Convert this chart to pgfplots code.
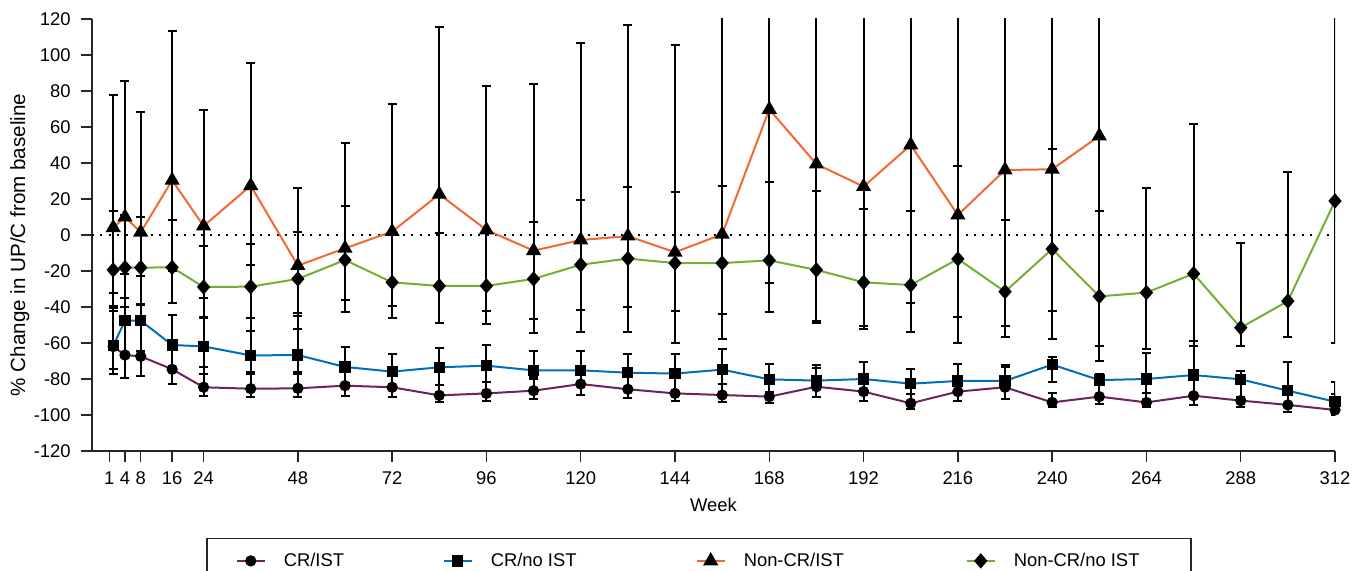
\documentclass[border=0pt]{standalone}
\usepackage{pgfplots}
\pgfplotsset{compat=1.18}
\usepackage{pgfplotstable}
\usepackage{fontspec}
\setmainfont{Liberation Sans}
\definecolor{cPur}{RGB}{108,34,96}
\definecolor{cBlu}{RGB}{0,110,185}
\definecolor{cOra}{RGB}{240,105,50}
\definecolor{cGrn}{RGB}{115,175,50}

\pgfplotstableread{
x y ep em
1 4.1 73.7 46.1
4 10 75.4 49.8
8 1.5 66.8 40
16 30.4 82.9 68
24 5 64.6 50.4
36 27.4 68.2 44.1
48 -17 42.9 26.5
60 -7.4 58.5 35.6
72 1.9 71.1 41.3
84 22.6 93 50.6
96 2.8 80.2 45
108 -8.7 92.8 38
120 -2.8 109.5 38.9
132 -0.6 117.1 53.5
144 -9.6 115.2 50.6
156 0.4 129.6 44.5
168 69.8 60.2 112.4
180 39.4 90.6 87
192 26.9 103.1 77.5
204 50 80 103.9
216 11.1 118.9 56.8
228 36.1 93.9 86.5
240 36.5 93.5 94.1
252 55 75 124.8
}\tabOra

\pgfplotstableread{
x y ep em
1 -19.4 32.7 13
4 -18.1 29.2 3.8
8 -18.1 27.9 4.5
16 -18 26.1 2
24 -28.9 22.6 17
36 -28.7 23.6 24.4
48 -24.4 26.1 28
60 -13.9 30 22.2
72 -26.3 27.8 20
84 -28.3 29.2 20.4
96 -28.3 29.8 21.1
108 -24.4 31.4 30.2
120 -16.5 36.1 37.4
132 -13.1 39.8 26.9
144 -15.6 39.3 26.8
156 -15.6 43 42.2
168 -14.1 43.5 12.4
180 -19.4 43.8 29.7
192 -26.3 40.7 26.1
204 -27.8 41.3 9.8
216 -13.3 51.6 46.9
228 -31.5 40 25
240 -7.8 55.6 34.6
252 -34.1 47.6 27.6
264 -32 58.1 31.3
276 -21.5 83.4 40
288 -51.5 47.1 10
300 -36.7 71.5 20.2
312 18.9 111.1 79.1
}\tabGrn

\pgfplotstableread{
x y ep em
1 -61.5 22.1 15.7
4 -47.6 12.8 20.4
8 -47.6 8.6 16.8
16 -61.1 16.7 12.9
24 -61.9 26.7 15.3
36 -66.9 20.6 10.3
48 -66.7 21.9 10.5
60 -73.3 10.9 8.7
72 -75.9 9.8 8.1
84 -73.5 10.5 9.8
96 -72.6 11.5 8.9
108 -75.2 10.6 4.8
120 -75.2 10.9 7.8
132 -76.5 10.4 9.5
144 -77 10.9 11
156 -74.8 11.5 8
168 -80.2 8.7 6.8
180 -80.9 8.7 3.1
192 -80 9.3 7
204 -82.6 8.2 5.7
216 -81.1 9.2 5.9
228 -81.1 8.9 3.9
240 -72 4 9.5
252 -80.6 3.6 8.4
264 -80 14.3 8
276 -77.8 18.9 11.2
288 -80.2 4.8 9.6
300 -86.5 16.1 7.5
312 -92.6 10.7 4.4
}\tabBlu

\pgfplotstableread{
x y ep em
1 -62 21.3 12.6
4 -66.7 17.7 12.6
8 -67.4 18.4 10.9
16 -74.6 13.6 8.2
24 -84.6 11.1 4.7
36 -85.4 9.5 4.4
48 -85.2 9.3 4.6
60 -83.7 10.7 5.6
72 -84.6 8.6 5.2
84 -89.1 16.1 3.5
96 -88 16 4
108 -86.5 7.8 4.8
120 -82.8 7.8 6.1
132 -85.7 9.7 5
144 -88 11 4
156 -88.9 13.9 4.1
168 -89.8 9.8 3.7
180 -84.3 10.6 5.9
192 -87 7 5
204 -93.5 11.5 3
216 -87 8.9 5.2
228 -84.6 11.5 6.5
240 -93 5 2.7
252 -89.8 8.8 4.1
264 -93 13 2.4
276 -89.3 11.3 5.1
288 -92 12 3.7
300 -94.4 8.4 3.7
312 -97.2 8.9 2.8
}\tabPur

\begin{document}
\begin{tikzpicture}
\begin{axis}[
  name=ax,
  scale only axis,
  width=621.5pt, height=216pt,
  xmin=-4.4, xmax=312,
  ymin=-120, ymax=120,
  axis lines=left,
  axis line style={-, black!85, line width=0.75pt},
  tick style={black!85, line width=0.75pt},
  tick align=outside,
  major tick length=5.5pt,
  font=\fontsize{9.2pt}{11pt}\selectfont,
  /pgf/number format/assume math mode=true,
  xtick={0,4,8,16,24,48,72,96,120,144,168,192,216,240,264,288,312},
  xticklabels={1,4,8,16,24,48,72,96,120,144,168,192,216,240,264,288,312},
  ytick={-120,-100,-80,-60,-40,-20,0,20,40,60,80,100,120},
  yticklabel style={anchor=east, inner xsep=0pt, xshift=-5pt},
  xticklabel style={anchor=base, yshift=-11.3pt, inner sep=0pt},
  xlabel={Week},
  xlabel style={at={(axis description cs:0.5,-0.125)}, anchor=center},
  ylabel={\% Change in UP/C from baseline},
  ylabel style={at={(axis description cs:-0.058,0.477)}, anchor=center,
    font=\fontsize{10.3pt}{12pt}\selectfont},
  clip=true,
  legend columns=4,
  legend cell align=left,
  legend style={at={(0,0)}, anchor=north west, xshift=57pt, yshift=-43.5pt,
    draw=black!85, line width=0.75pt, inner xsep=14.5pt, inner ysep=5pt,
    font=\fontsize{9.2pt}{11pt}\selectfont,
    column sep=0pt,
    /tikz/every odd column/.append style={column sep=9pt},
    nodes={inner xsep=0pt}},
  legend image code/.code={
    \draw[mark repeat=2, mark phase=2] plot coordinates {(0pt,0pt) (7pt,0pt) (14pt,0pt)};
  },
]
\addplot[black, line width=1pt, dash pattern=on 1pt off 3.2pt, forget plot] coordinates {(-4.4,0) (312,0)};

\addplot[cPur, line width=1pt, mark=*, mark size=2.3pt, mark options={black, fill=black, solid},
  error bars/.cd, y dir=both, y explicit,
  error bar style={black, line width=1pt},
  error mark options={black, rotate=90, mark size=2.25pt, line width=1pt}]
  table[x=x, y=y, y error plus=ep, y error minus=em] {\tabPur};
\addlegendentry{\makebox[79.5pt][l]{CR/IST}}

\addplot[cBlu, line width=1pt, mark=square*, mark size=2.3pt, mark options={black, fill=black, solid},
  error bars/.cd, y dir=both, y explicit,
  error bar style={black, line width=1pt},
  error mark options={black, rotate=90, mark size=2.25pt, line width=1pt}]
  table[x=x, y=y, y error plus=ep, y error minus=em] {\tabBlu};
\addlegendentry{\makebox[102.5pt][l]{CR/no IST}}

\addplot[cOra, line width=1pt, mark=triangle*, mark size=3.4pt, mark options={black, fill=black, solid},
  error bars/.cd, y dir=both, y explicit,
  error bar style={black, line width=1pt},
  error mark options={black, rotate=90, mark size=2.25pt, line width=1pt}]
  table[x=x, y=y, y error plus=ep, y error minus=em] {\tabOra};
\addlegendentry{\makebox[111pt][l]{Non-CR/IST}}

\addplot[cGrn, line width=1pt, mark=diamond*, mark size=3.1pt, mark options={black, fill=black, solid, xscale=1.15},
  error bars/.cd, y dir=both, y explicit,
  error bar style={black, line width=1pt},
  error mark options={black, rotate=90, mark size=2.25pt, line width=1pt}]
  table[x=x, y=y, y error plus=ep, y error minus=em] {\tabGrn};
\addlegendentry{\makebox[74pt][l]{Non-CR/no IST}}
\end{axis}
\pgfresetboundingbox
\path[use as bounding box] ([shift={(-46pt,-60pt)}]ax.south west) rectangle ([shift={(630.5pt,225.5pt)}]ax.south west);
\end{tikzpicture}
\end{document}
